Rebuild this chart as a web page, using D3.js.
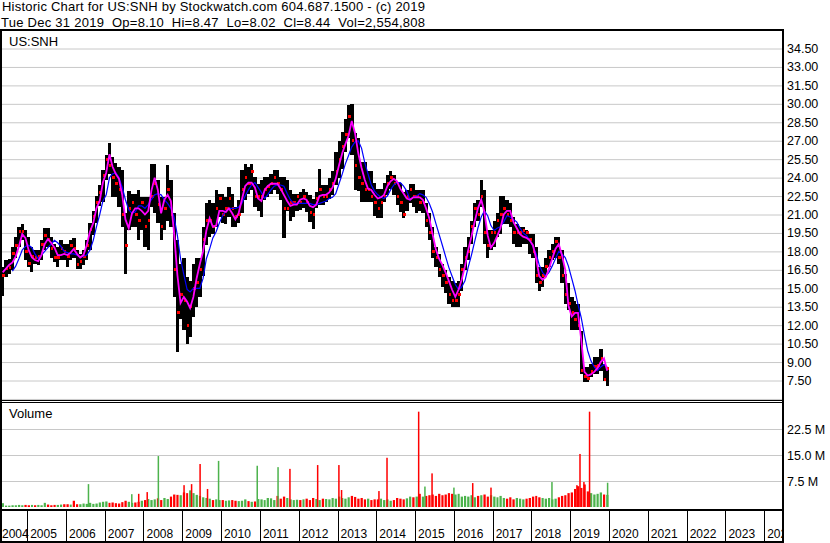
<!DOCTYPE html>
<html>
<head>
<meta charset="utf-8">
<script src="https://cdn.jsdelivr.net/npm/d3@7"></script>
<style>
  body { margin: 0; background: #fff; }
  svg { display: block; font-family: "Liberation Sans", Arial, sans-serif; }
  .grid line { stroke: #c8c8c8; stroke-width: 1; }
  .grid path { display: none; }
</style>
</head>
<body>
<script>
// monthly bars, first one is May 2004, last one Dec 2019
var firstMonth = new Date(2004, 4, 1);

var high = [
  16.7, 17.3, 17.4, 18.35, 19.2, 20.0, 20.25, 19.7,
  19.2, 18.35, 18.1, 18.1, 18.9, 19.9, 19.9, 19.2, 18.6, 18.35, 18.9, 18.6,
  18.6, 18.9, 19.05, 18.1, 17.8, 18.1, 18.9, 20.3, 21.3, 22.5, 23.4, 24.6,
  25.8, 26.8, 25.7, 25.2, 24.9, 24.6, 21.1, 22.95, 22.7, 22.7, 23.0, 22.4,
  22.4, 22.4, 25.1, 25.1, 23.8, 22.4, 22.4, 25.0, 23.8, 21.1, 18.9, 17.0,
  17.5, 15.9, 15.6, 17.0, 17.5, 17.5, 20.0, 21.9, 22.15, 21.9, 23.0, 22.7,
  22.7, 22.4, 23.2, 22.7, 21.6, 22.15, 24.6, 25.1, 24.9, 25.1, 24.05, 23.5,
  23.8, 24.05, 24.05, 24.3, 24.6, 24.6, 24.05, 24.05, 23.8, 23.0, 22.7, 22.7,
  22.8, 23.1, 22.8, 22.55, 22.3, 22.8, 24.7, 23.4, 23.4, 24.0, 24.5, 26.1,
  27.0, 27.7, 28.8, 29.9, 29.99, 27.6, 27.2, 25.3, 25.3, 24.5, 24.5, 23.6,
  23.1, 23.1, 23.6, 24.2, 24.5, 24.2, 23.6, 23.6, 22.8, 23.0, 23.5, 23.5,
  23.0, 23.0, 23.0, 21.9, 21.1, 20.0, 18.35, 17.8, 17.0, 16.45, 15.9, 15.6,
  15.4, 15.6, 17.0, 18.35, 19.2, 20.5, 21.9, 22.15, 23.8, 23.0, 19.7, 19.7,
  20.5, 21.1, 22.5, 22.5, 22.15, 21.9, 20.8, 20.25, 20.0, 20.0, 19.7, 19.45,
  19.45, 18.35, 16.7, 16.7, 17.5, 18.1, 18.6, 19.2, 19.2, 18.1, 16.2, 15.4,
  14.3, 14.0, 13.7, 11.5, 8.6, 8.6, 8.85, 9.4, 9.4, 10.1, 8.85, 8.47
];

var low = [
  14.4, 15.9, 16.2, 16.45, 17.5, 18.35, 18.9, 17.3,
  16.7, 16.3, 17.0, 16.9, 17.3, 18.1, 18.35, 17.5, 17.15, 16.7, 17.3, 17.3,
  16.7, 17.3, 17.5, 16.6, 16.6, 16.9, 17.3, 18.1, 19.3, 20.3, 21.7, 22.0,
  23.8, 24.3, 22.4, 22.4, 21.6, 20.0, 16.2, 19.7, 20.0, 20.0, 18.9, 19.7,
  18.35, 18.1, 21.6, 21.1, 20.3, 18.9, 19.7, 20.5, 20.0, 14.3, 9.8, 12.5,
  11.6, 10.5, 11.0, 12.65, 13.5, 14.3, 16.0, 18.5, 19.2, 19.45, 20.0, 20.8,
  20.3, 20.25, 20.8, 20.0, 20.0, 20.3, 21.1, 22.15, 22.7, 23.0, 21.6, 21.3,
  20.8, 22.15, 22.4, 22.7, 23.0, 22.7, 22.15, 19.05, 21.3, 20.5, 20.8, 21.3,
  21.4, 21.5, 21.2, 20.4, 19.85, 21.5, 21.75, 21.75, 22.0, 22.3, 22.55, 23.4,
  24.0, 24.7, 26.1, 27.2, 25.8, 23.0, 22.9, 22.0, 22.0, 22.0, 22.0, 20.9,
  20.7, 20.7, 22.0, 22.55, 23.1, 22.55, 21.75, 21.2, 20.7, 21.3, 21.9, 21.6,
  21.1, 21.3, 21.1, 20.0, 18.9, 17.5, 16.7, 15.9, 15.1, 14.6, 13.7, 13.5,
  13.5, 13.5, 14.8, 16.45, 17.3, 18.6, 20.0, 20.5, 21.6, 18.6, 17.5, 18.1,
  18.35, 19.2, 19.45, 20.25, 20.25, 20.0, 18.6, 18.35, 18.35, 18.6, 18.6, 17.8,
  17.5, 15.4, 14.8, 15.1, 15.9, 16.7, 17.3, 17.5, 17.0, 15.4, 13.7, 13.2,
  11.6, 11.6, 11.6, 8.0, 7.4, 7.4, 7.75, 8.0, 8.0, 8.3, 7.5, 7.05
];

var close = [
  16.0, 16.6, 16.7, 17.8, 18.5, 19.6, 19.6, 18.0,
  17.0, 17.6, 17.5, 17.6, 18.6, 19.3, 19.0, 18.2, 17.5, 17.5, 18.2, 18.0,
  17.6, 18.5, 18.2, 16.9, 17.2, 17.6, 18.5, 19.8, 20.8, 22.0, 22.8, 24.2,
  25.5, 25.0, 24.0, 23.5, 23.0, 21.0, 18.5, 21.5, 22.0, 21.0, 20.5, 22.0,
  20.0, 20.5, 22.5, 23.5, 21.8, 20.0, 21.5, 23.0, 21.0, 16.5, 13.0, 14.5,
  14.0, 12.0, 13.5, 15.0, 15.5, 16.5, 19.0, 20.5, 20.5, 20.0, 21.5, 22.3,
  21.0, 21.5, 22.3, 21.5, 20.8, 21.0, 23.0, 24.0, 23.5, 24.5, 22.5, 22.5,
  22.5, 23.0, 23.3, 23.5, 24.0, 23.5, 23.0, 21.5, 21.5, 22.0, 22.0, 22.5,
  22.0, 22.5, 22.0, 21.2, 21.0, 22.3, 23.0, 22.5, 22.5, 23.0, 23.5, 24.5,
  25.5, 26.5, 27.5, 29.0, 27.0, 25.0, 24.0, 23.5, 23.0, 23.0, 22.5, 22.0,
  21.5, 22.0, 22.5, 23.5, 24.0, 23.5, 22.5, 22.0, 21.0, 22.5, 23.0, 22.5,
  22.5, 22.0, 22.0, 20.5, 19.5, 18.0, 17.5, 16.5, 16.0, 15.5, 14.5, 14.0,
  14.0, 14.5, 16.5, 17.5, 18.0, 20.0, 21.5, 21.0, 22.5, 19.5, 18.5, 19.5,
  19.5, 20.5, 21.0, 21.5, 21.0, 20.5, 19.5, 19.5, 19.5, 19.7, 19.5, 19.0,
  18.0, 16.0, 15.5, 16.0, 16.8, 17.5, 18.0, 18.8, 17.5, 16.0, 14.5, 13.8,
  13.0, 12.5, 12.0, 8.3, 7.8, 7.7, 8.2, 8.6, 8.7, 9.3, 7.6, 8.44
];

// short average (magenta)
var maShort = [
  16.3, 16.6, 16.9, 17.1, 17.6, 18.4, 19.4, 19.1,
  18.1, 17.5, 17.3, 17.2, 17.7, 18.6, 19.0, 18.7, 18.3, 17.7, 17.7, 17.8,
  17.7, 17.9, 18.2, 17.8, 17.5, 17.7, 18.5, 19.6, 20.3, 21.5, 22.1, 23.6,
  24.4, 25.9, 24.9, 24.3, 23.9, 22.6, 20.6, 19.9, 21.1, 21.5, 21.5, 21.3,
  21.0, 21.3, 22.9, 24.0, 23.0, 21.1, 22.2, 22.6, 22.1, 19.5, 16.1, 13.8,
  14.3, 13.9, 13.4, 14.3, 15.8, 17.0, 18.0, 19.7, 20.7, 20.0, 20.1, 21.3,
  21.3, 21.2, 21.5, 21.1, 20.6, 21.1, 22.2, 23.3, 23.6, 23.6, 23.2, 22.3,
  22.1, 23.0, 23.3, 23.5, 23.5, 23.5, 23.1, 22.6, 22.1, 21.7, 21.8, 21.8,
  22.2, 22.3, 22.2, 21.7, 21.6, 21.8, 22.5, 22.6, 22.6, 22.8, 23.2, 23.9,
  25.0, 26.0, 26.7, 27.4, 28.6, 27.6, 26.0, 24.8, 23.8, 23.1, 23.0, 22.6,
  22.3, 22.4, 22.6, 23.3, 23.7, 23.9, 23.7, 23.1, 22.7, 22.3, 22.2, 22.4,
  22.4, 22.4, 22.2, 21.5, 20.7, 19.4, 18.2, 17.4, 16.9, 16.3, 15.6, 14.9,
  14.3, 14.9, 15.7, 16.8, 18.1, 19.2, 20.4, 21.5, 22.2, 21.2, 19.3, 18.3,
  18.7, 19.3, 19.9, 21.0, 21.3, 21.3, 20.4, 19.9, 19.4, 19.2, 19.1, 18.9,
  18.5, 17.4, 16.0, 15.7, 15.9, 16.6, 17.4, 18.2, 18.6, 17.7, 16.5, 13.6,
  12.7, 13.0, 13.0, 10.8, 8.2, 7.9, 8.0, 8.2, 8.5, 9.0, 9.3, 8.3
];

// long average (blue)
var maLong = [
  null, null, null, 16.4, 16.8, 17.4, 18.1, 18.4,
  18.5, 18.3, 17.8, 17.4, 17.7, 18.0, 18.3, 18.6, 18.9, 18.7, 18.4, 18.0,
  17.9, 17.8, 17.8, 17.7, 17.5, 17.6, 17.7, 18.1, 18.9, 20.0, 21.0, 22.1,
  22.6, 24.0, 24.3, 24.4, 24.0, 23.2, 22.2, 21.4, 21.1, 21.2, 21.7, 21.7,
  21.5, 21.8, 22.2, 22.6, 22.7, 22.6, 22.2, 21.9, 21.5, 20.8, 19.3, 17.4,
  16.1, 14.9, 14.7, 15.0, 15.0, 15.0, 15.8, 17.4, 18.2, 19.1, 19.6, 20.3,
  20.9, 21.3, 21.5, 21.5, 21.5, 21.6, 21.9, 22.5, 23.0, 23.4, 23.6, 23.2,
  22.8, 22.3, 22.6, 23.0, 23.3, 23.4, 23.4, 23.3, 22.7, 22.2, 21.9, 21.9,
  21.9, 21.9, 21.9, 21.9, 21.8, 21.8, 21.9, 22.0, 22.1, 22.3, 22.4, 22.7,
  23.5, 24.3, 25.1, 25.8, 26.5, 26.9, 27.0, 26.4, 25.2, 24.3, 23.4, 22.9,
  22.6, 22.4, 22.3, 22.5, 23.0, 23.4, 23.6, 23.6, 23.3, 22.9, 22.2, 22.4,
  22.5, 22.7, 22.6, 22.4, 21.9, 21.2, 20.3, 19.4, 18.5, 17.6, 16.7, 16.0,
  15.3, 14.9, 15.1, 15.6, 16.7, 17.7, 18.8, 19.9, 20.8, 21.3, 20.9, 20.1,
  19.7, 19.9, 20.0, 20.4, 20.9, 20.8, 20.6, 20.4, 19.9, 19.5, 19.3, 18.9,
  18.4, 17.8, 16.9, 16.3, 16.0, 16.3, 16.8, 17.4, 18.0, 17.8, 17.5, 16.8,
  15.8, 14.8, 13.7, 12.6, 11.2, 9.9, 9.1, 8.6, 8.3, 8.6, 8.8, 8.6
];

// typical volume per month, millions
var volume = [
  1.1, 0.4, 0.4, 0.5, 0.5, 0.6, 0.5, 0.6,
  0.5, 0.6, 0.5, 0.6, 0.5, 1.2, 0.7, 0.5, 0.6, 0.6, 0.7, 0.8,
  0.8, 0.7, 1.8, 0.8, 0.8, 1.0, 0.9, 1.2, 0.9, 1.0, 1.3, 1.5,
  1.6, 1.2, 1.3, 1.1, 1.0, 1.4, 1.8, 1.5, 1.2, 1.3, 1.5, 1.8,
  2.0, 2.3, 2.0, 2.2, 2.5, 2.0, 2.6, 2.3, 3.0, 3.6, 3.5, 3.4,
  4.2, 4.0, 4.8, 4.0, 3.5, 3.2, 2.8, 2.6, 2.4, 2.0, 2.2, 2.0,
  2.0, 1.8, 1.9, 2.0, 1.8, 1.7, 1.8, 2.2, 1.7, 1.5, 1.6, 2.3,
  2.2, 2.0, 2.6, 2.5, 2.0, 3.2, 2.4, 3.0, 2.6, 2.2, 2.0, 2.1,
  2.0, 2.2, 2.4, 2.0, 2.6, 2.3, 2.0, 2.4, 2.3, 2.2, 2.6, 2.4,
  3.0, 2.6, 2.4, 2.8, 3.2, 2.9, 2.4, 2.6, 2.2, 2.4, 2.0, 2.2,
  2.2, 2.4, 2.0, 2.2, 1.8, 2.0, 2.6, 2.4, 2.2, 2.5, 3.0, 2.8,
  3.0, 3.8, 3.0, 3.2, 3.4, 3.6, 3.2, 3.8, 3.4, 3.6, 4.0, 3.8,
  3.6, 3.8, 3.0, 3.2, 3.0, 3.4, 2.8, 3.2, 3.4, 3.6, 3.0, 3.4,
  3.0, 2.8, 3.2, 2.6, 2.4, 2.8, 2.2, 2.6, 2.4, 2.2, 2.4, 2.6,
  3.0, 3.2, 2.8, 2.6, 2.4, 2.6, 2.2, 2.4, 2.8, 3.2, 3.4, 4.0,
  4.2, 5.2, 6.0, 5.5, 6.5, 4.5, 4.0, 3.6, 3.8, 4.2, 3.6, 3.5
];

// single heavy days
var spikeDates = ["2006-08-01", "2007-09-13", "2007-11-17", "2008-02-05", "2008-05-20",
  "2009-01-17", "2009-03-29", "2009-06-17", "2009-08-26", "2009-12-08", "2010-12-07",
  "2011-06-21", "2011-10-11", "2012-06-28", "2013-01-14", "2013-02-08", "2014-01-26",
  "2014-04-12", "2015-02-04", "2015-04-04", "2015-06-10", "2016-01-02", "2016-06-27",
  "2016-12-16", "2018-07-13", "2019-03-05", "2019-04-03", "2019-05-10", "2019-07-02",
  "2019-12-19"];
var spikeVolume = [6.6, 3.7, 3.8, 4.3, 14.7, 6.3, 6.6, 12.4, 5.2, 13.3, 11.9, 11.5, 11.0,
  12.1, 12.1, 4.9, 4.6, 14.2, 27.5, 5.9, 9.7, 5.6, 6.9, 5.6, 7.2, 6.3, 15.3, 7.2, 27.5, 7.0];
var spikeUp = [1, 1, 0, 0, 1, 0, 0, 0, 0, 1, 1, 1, 0, 0, 0, 0, 0, 0, 0, 1, 0, 1, 0, 0, 1,
  0, 0, 0, 0, 1];

var priceTicks = [7.5, 9, 10.5, 12, 13.5, 15, 16.5, 18, 19.5, 21, 22.5, 24, 25.5, 27,
  28.5, 30, 31.5, 33, 34.5];
var volTicks = [7.5, 15, 22.5];
var yearLabels = d3.range(2004, 2025);

var title1 = "Historic Chart for US:SNH by Stockwatch.com 604.687.1500 - (c) 2019";
var title2 = "Tue Dec 31 2019  Op=8.10  Hi=8.47  Lo=8.02  Cl=8.44  Vol=2,554,808";

// ---- layout
var plotRight = 782,
    priceTop = 31, priceBottom = 400,
    volTop = 403, volBottom = 509,
    dateTop = 511, dateBottom = 541;

var green = "#4cb34c", red = "#ff0000";

var months = d3.timeMonth.range(firstMonth, d3.timeMonth.offset(firstMonth, close.length));
var parseDay = d3.timeParse("%Y-%m-%d");

var xScale = d3.scaleTime()
    .domain([new Date(2004, 3, 20), new Date(2024, 5, 17)])
    .range([0, plotRight]);
var yScale = d3.scaleLinear().domain([7.5, 34.5]).range([380.5, 48.5]);
var vScale = d3.scaleLinear().domain([0, 22.5]).range([507, 429]);

var midMonth = function(d) { return xScale(new Date(d.getFullYear(), d.getMonth(), 15)); };
var monthEnd = function(d) { return xScale(d3.timeMonth.offset(d, 1)); };

var svg = d3.select('body')
    .append('svg')
    .attr('width', 830)
    .attr('height', 543);

var defs = svg.append('defs');
function addClip(id, y0, y1) {
    defs.append('clipPath').attr('id', id)
      .append('rect')
        .attr('x', 2).attr('y', y0)
        .attr('width', plotRight - 2).attr('height', y1 - y0);
}
addClip('clipPrice', priceTop, priceBottom);
addClip('clipVol', volTop, volBottom);
addClip('clipDate', dateTop, dateBottom);

// header
svg.append('text')
    .attr('x', 2).attr('y', 11)
    .attr('textLength', 423)
    .style('font-size', '13px')
    .text(title1);
svg.append('text')
    .attr('x', 1).attr('y', 27)
    .attr('textLength', 424)
    .style('font-size', '13px')
    .style('white-space', 'pre')
    .text(title2);

// gridlines
var years = d3.timeYear.range(new Date(2005, 0, 1), new Date(2025, 0, 1));

svg.append('g')
    .attr('class', 'grid')
    .attr('clip-path', 'url(#clipPrice)')
    .attr('transform', 'translate(0,' + priceBottom + ')')
    .call(d3.axisBottom(xScale).tickValues(years).tickSize(-(priceBottom - priceTop)).tickFormat(''));

svg.append('g')
    .attr('class', 'grid')
    .attr('clip-path', 'url(#clipPrice)')
    .call(d3.axisLeft(yScale).tickValues([6].concat(priceTicks)).tickSize(-plotRight).tickFormat(''));

svg.append('g')
    .attr('class', 'grid')
    .attr('clip-path', 'url(#clipVol)')
    .attr('transform', 'translate(0,' + volBottom + ')')
    .call(d3.axisBottom(xScale).tickValues(years).tickSize(-(volBottom - volTop)).tickFormat(''));

svg.append('g')
    .attr('class', 'grid')
    .attr('clip-path', 'url(#clipVol)')
    .call(d3.axisLeft(vScale).tickValues(volTicks).tickSize(-plotRight).tickFormat(''));

// price bars
var price = svg.append('g').attr('clip-path', 'url(#clipPrice)');

price.selectAll('.bar')
    .data(months)
  .enter().append('rect')
    .attr('class', 'bar')
    .attr('x', function(d) { return xScale(d); })
    .attr('width', function(d) { return monthEnd(d) - xScale(d); })
    .attr('y', function(d, i) { return yScale(high[i]); })
    .attr('height', function(d, i) { return yScale(low[i]) - yScale(high[i]); })
    .attr('shape-rendering', 'crispEdges')
    .style('fill', '#000');

// red close marks
price.selectAll('.tick-close')
    .data(months)
  .enter().append('rect')
    .attr('class', 'tick-close')
    .attr('x', function(d) { return monthEnd(d) - 2; })
    .attr('y', function(d, i) { return yScale(close[i]) - 1.5; })
    .attr('width', 2.5)
    .attr('height', 3)
    .attr('shape-rendering', 'crispEdges')
    .style('fill', red);

var lineLong = d3.line()
    .defined(function(d, i) { return maLong[i] != null; })
    .x(midMonth)
    .y(function(d, i) { return yScale(maLong[i]); });
var lineShort = d3.line()
    .x(midMonth)
    .y(function(d, i) { return yScale(maShort[i]); });

price.append('path')
    .datum(months)
    .attr('d', lineLong)
    .style('fill', 'none')
    .style('stroke', '#0000ff')
    .style('stroke-width', 1.2);

price.append('path')
    .datum(months)
    .attr('d', lineShort)
    .style('fill', 'none')
    .style('stroke', '#ff00ff')
    .style('stroke-width', 1.8);

// volume
var vol = svg.append('g').attr('clip-path', 'url(#clipVol)');

vol.selectAll('.vbar')
    .data(months)
  .enter().append('rect')
    .attr('class', 'vbar')
    .attr('x', function(d) { return xScale(d) + 0.5; })
    .attr('width', function(d) { return monthEnd(d) - xScale(d) - 1; })
    .attr('y', function(d, i) { return vScale(volume[i]); })
    .attr('height', function(d, i) { return vScale(0) - vScale(volume[i]); })
    .style('fill', function(d, i) { return (i == 0 || close[i] >= close[i - 1]) ? green : red; });

vol.selectAll('.spike')
    .data(spikeDates)
  .enter().append('rect')
    .attr('class', 'spike')
    .attr('x', function(d) { return xScale(parseDay(d)) - 0.75; })
    .attr('width', 1.5)
    .attr('y', function(d, i) { return vScale(spikeVolume[i]); })
    .attr('height', function(d, i) { return vScale(0) - vScale(spikeVolume[i]); })
    .style('fill', function(d, i) { return spikeUp[i] ? green : red; });

// right hand labels
var pAxis = svg.append('g')
    .attr('transform', 'translate(' + (plotRight + 2) + ',0)')
    .call(d3.axisRight(yScale).tickValues(priceTicks).tickSize(0).tickPadding(3).tickFormat(d3.format('.2f')));
var vAxis = svg.append('g')
    .attr('transform', 'translate(' + (plotRight + 2) + ',0)')
    .call(d3.axisRight(vScale).tickValues(volTicks).tickSize(0).tickPadding(3)
        .tickFormat(function(d) { return d3.format('.1f')(d) + ' M'; }));
[pAxis, vAxis].forEach(function(a) {
    a.select('.domain').remove();
    a.selectAll('text')
        .style('font-size', '12.5px')
        .style('font-family', '"Liberation Sans", Arial, sans-serif')
        .attr('fill', '#000');
});

// panel labels
svg.append('text').attr('x', 9).attr('y', 46).style('font-size', '13px').text('US:SNH');
svg.append('text').attr('x', 9).attr('y', 418).style('font-size', '13px').text('Volume');

// date axis
var dates = svg.append('g');
dates.selectAll('.sep')
    .data(years)
  .enter().append('line')
    .attr('class', 'sep')
    .attr('x1', function(d) { return Math.round(xScale(d)) + 0.5; })
    .attr('x2', function(d) { return Math.round(xScale(d)) + 0.5; })
    .attr('y1', dateTop)
    .attr('y2', dateBottom)
    .style('stroke', '#000');

dates.append('g')
    .attr('clip-path', 'url(#clipDate)')
    .selectAll('text')
    .data(yearLabels)
  .enter().append('text')
    .attr('x', function(d) { return Math.max(2, xScale(new Date(d, 0, 1)) + 3); })
    .attr('y', 538)
    .style('font-size', '12px')
    .text(function(d) { return d; });

// black frame
function bar(x, y, w, h) {
    svg.append('rect').attr('x', x).attr('y', y).attr('width', w).attr('height', h)
        .style('fill', '#000');
}
bar(0, 29, plotRight + 2, 2);
bar(0, 29, 2, 514);
bar(plotRight, 29, 2, 514);
bar(0, 400, plotRight + 2, 1);
bar(0, 402, plotRight + 2, 1);
bar(0, 509, plotRight + 2, 2);
bar(0, 541, plotRight + 2, 2);
</script>
</body>
</html>
